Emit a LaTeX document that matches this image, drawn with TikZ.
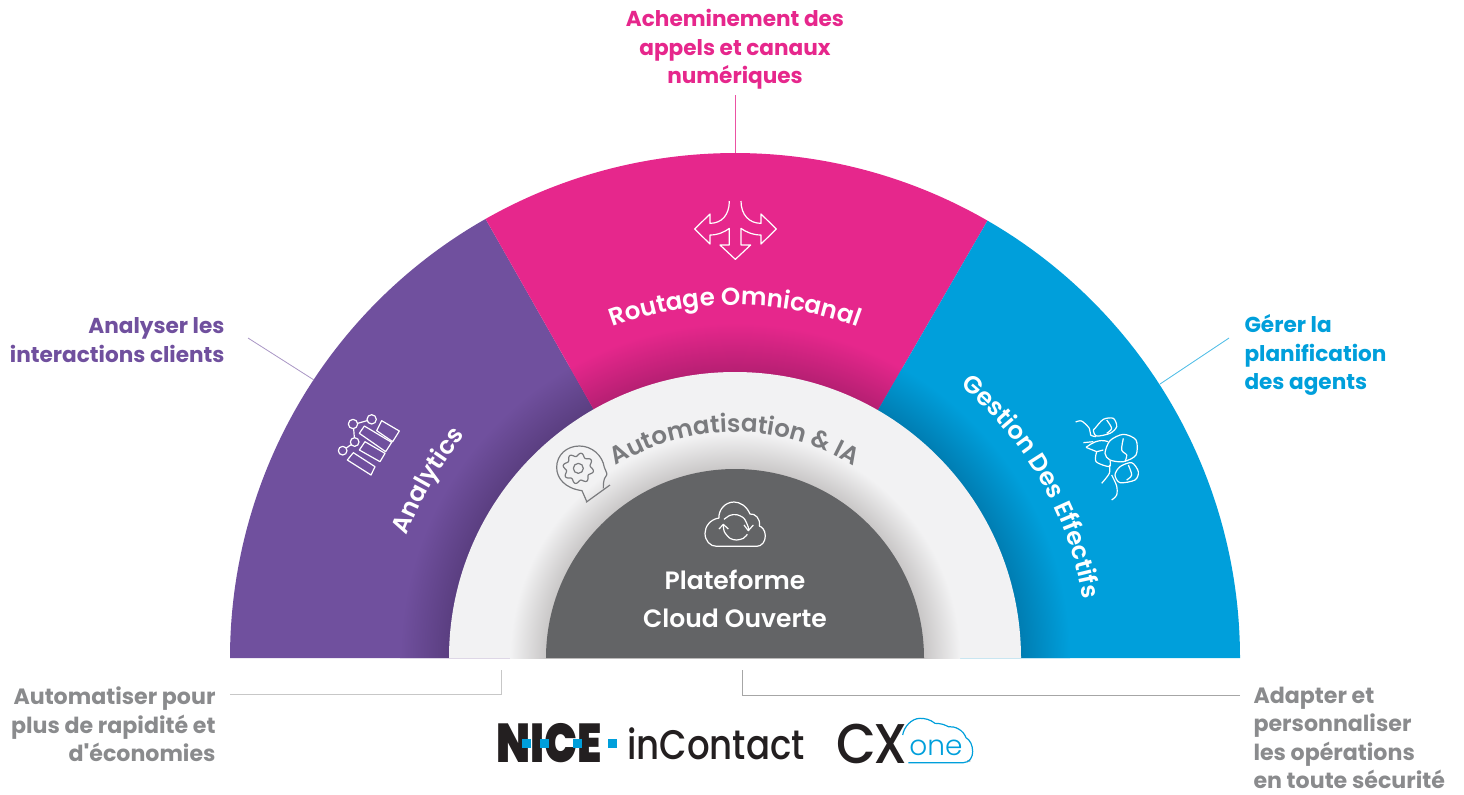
\documentclass[tikz,border=0pt]{standalone}
\usepackage{fontspec}
\setmainfont{Poppins}
\newfontfamily\semifont{Poppins SemiBold}
\newfontfamily\lightfont{Poppins Light}
\newfontfamily\medfont{Poppins Medium}
\newfontfamily\plainbold{Poppins Bold}
\newfontfamily\blackfont{Poppins Black}
\usetikzlibrary{decorations.text}
\tikzset{every picture/.style={line width=0.75pt}}

\definecolor{violetbase}{HTML}{70509E}
\definecolor{violetdark}{HTML}{5A3E80}
\definecolor{pinkbase}{HTML}{E6278C}
\definecolor{pinkdark}{HTML}{B51F72}
\definecolor{bluebase}{HTML}{009FDB}
\definecolor{bluedark}{HTML}{007DB2}
\definecolor{ringbase}{HTML}{F2F2F3}
\definecolor{ringdark}{HTML}{C9C7C7}
\definecolor{coregrey}{HTML}{636466}
\definecolor{labelgrey}{HTML}{8A8B8D}
\definecolor{arcgrey}{HTML}{7A7B7E}
\definecolor{logoblack}{HTML}{231F20}

\pgfdeclareradialshading{violetshade}{\pgfpoint{0bp}{0bp}}{color(0bp)=(violetdark); color(21.3bp)=(violetdark); color(25bp)=(violetbase); color(50bp)=(violetbase)}
\pgfdeclareradialshading{pinkshade}{\pgfpoint{0bp}{0bp}}{color(0bp)=(pinkdark); color(21.3bp)=(pinkdark); color(25bp)=(pinkbase); color(50bp)=(pinkbase)}
\pgfdeclareradialshading{blueshade}{\pgfpoint{0bp}{0bp}}{color(0bp)=(bluedark); color(21.3bp)=(bluedark); color(25bp)=(bluebase); color(50bp)=(bluebase)}
\pgfdeclareradialshading{ringshade}{\pgfpoint{0bp}{0bp}}{color(0bp)=(ringdark); color(21bp)=(ringdark); color(25bp)=(ringbase); color(50bp)=(ringbase)}

\newcommand{\labelfont}{\fontsize{16.2}{21.4}\selectfont\bfseries}
\newcommand{\greyfont}{\fontsize{16.6}{21.3}\selectfont\bfseries}
\newcommand{\arcfont}{\fontsize{18.4}{22}\selectfont\semifont}

\tikzset{
  sidelabel/.style={inner sep=0.75pt,font=\labelfont},
  greylabel/.style={inner sep=0.75pt,font=\greyfont,text=labelgrey},
  iconline/.style={white,line width=0.9pt,line join=round},
  headline/.style={arcgrey,line width=0.9pt,line join=round},
  iconbox/.style={x=0.25pt,y=0.25pt},
  leader/.style={line width=0.6pt}
}

\begin{document}
\begin{tikzpicture}[x=0.75pt,y=0.75pt,yscale=-1,xscale=1]
\useasboundingbox (0,0) rectangle (1464,794);

\begin{scope}[shift={(735,658)},yscale=-1]
%Shape: Sector violet
\fill [violetbase] (0,0) -- (180:505) arc [start angle=180,end angle=119.6,radius=505] -- cycle ;
\begin{scope}
\clip (0,0) -- (180:505) arc [start angle=180,end angle=119.6,radius=505] -- cycle ;
\shade [shading=violetshade] (0,0) circle (335) ;
\end{scope}
%Shape: Sector pink
\fill [pinkbase] (0,0) -- (119.6:505) arc [start angle=119.6,end angle=60,radius=505] -- cycle ;
\begin{scope}
\clip (0,0) -- (119.6:505) arc [start angle=119.6,end angle=60,radius=505] -- cycle ;
\shade [shading=pinkshade] (0,0) circle (335) ;
\end{scope}
%Shape: Sector blue
\fill [bluebase] (0,0) -- (60:505) arc [start angle=60,end angle=0,radius=505] -- cycle ;
\begin{scope}
\clip (0,0) -- (60:505) arc [start angle=60,end angle=0,radius=505] -- cycle ;
\shade [shading=blueshade] (0,0) circle (335) ;
\end{scope}
%Shape: Half ring
\fill [ringbase] (-286,0) arc [start angle=180,end angle=0,radius=286] -- cycle ;
\begin{scope}
\clip (-240,0) rectangle (240,240) ;
\shade [shading=ringshade] (0,0) circle (225) ;
\end{scope}
%Shape: Half disc
\fill [coregrey] (-189,0) arc [start angle=180,end angle=0,radius=189] -- cycle ;

%Curve Text
\path [decorate,decoration={text along path,text align=center,text color=white,text={|\arcfont|Routage Omnicanal}}] (130:353) arc [start angle=130,end angle=50,radius=353] ;
\path [decorate,decoration={text along path,text align=center,text color=white,text={|\arcfont|Analytics}}] (180:350) arc [start angle=180,end angle=120,radius=350] ;
\path [decorate,decoration={text along path,text align=center,text color=white,text={|\arcfont|Gestion Des Effectifs}}] (65:353) arc [start angle=65,end angle=-5,radius=353] ;
\path [decorate,decoration={text along path,text align=center,text color=arcgrey,text={|\arcfont|Automatisation {\&} IA}}] (140:226) arc [start angle=140,end angle=40,radius=226] ;
\end{scope}

%Straight Lines
\coordinate (pinkFoot) at (735,95);
\coordinate (pinkTip) at (735,153);
\coordinate (violetFoot) at (248,338);
\coordinate (violetTip) at (314,380);
\coordinate (blueFoot) at (1229,338);
\coordinate (blueTip) at (1160,384);
\coordinate (leftStart) at (230,694);
\coordinate (leftCorner) at (501,694);
\coordinate (leftEnd) at (501,670);
\coordinate (rightStart) at (1240,695);
\coordinate (rightCorner) at (742,695);
\coordinate (rightEnd) at (742,670);

% Text Node
\draw (735,49.5) node (pinkLabel) [sidelabel,align=center,text=pinkbase] {Acheminement des\\appels et canaux\\numériques};
% Text Node
\draw (226,340) node (violetLabel) [sidelabel,anchor=east,align=right,text=violetbase] {Analyser les\\interactions clients};
% Text Node
\draw (1243,355) node (blueLabel) [sidelabel,anchor=west,align=left,text=bluebase] {Gérer la\\planification\\des agents};
% Text Node
\draw (217,724.5) node (leftLabel) [greylabel,anchor=east,align=right] {Automatiser pour\\plus de rapidité et\\d{\plainbold '}économies};
% Text Node
\draw (1252,738) node (rightLabel) [greylabel,anchor=west,align=left] {Adapter et\\personnaliser\\les opérations\\en toute sécurité};
% Text Node
\draw (735,599) node (coreLabel) [inner sep=0.75pt,align=center,text=white,font=\fontsize{18.8}{28.6}\selectfont\semifont] {Plateforme\\Cloud Ouverte};

\draw [leader,pinkbase!80] (pinkFoot) -- (pinkTip) ;
\draw [leader,violetbase!60] (violetFoot) -- (violetTip) ;
\draw [leader,bluebase!70] (blueFoot) -- (blueTip) ;
\draw [leader,black!22] (leftStart) -- (leftCorner) -- (leftEnd) ;
\draw [leader,black!35] (rightStart) -- (rightCorner) -- (rightEnd) ;

%Shape: Route icon
\begin{scope}[shift={(680,190)},iconbox]
\draw [iconline] (148,33) .. controls (148,75) and (125,100) .. (90,100) -- (90,72) -- (44,117) -- (90,162) -- (90,135) .. controls (115,135) and (135,125) .. (148,115) -- (148,165) -- (120,165) -- (166,208) -- (212,165) -- (183,165) -- (183,115) .. controls (196,125) and (218,135) .. (243,135) -- (243,162) -- (289,117) -- (243,72) -- (243,100) .. controls (208,100) and (183,75) .. (183,33) ;
\end{scope}

%Shape: Analytics icon
\begin{scope}[shift={(320,400)},iconbox]
\draw [iconline] (99,72) circle (14) ;
\draw [iconline] (155,58) circle (14) ;
\draw [iconline] (104,126) circle (13) ;
\draw [iconline] (68,152) circle (13) ;
\draw [iconline] (113,70) -- (141,62) ;
\draw [iconline] (101,86) -- (103,113) ;
\draw [iconline] (93,134) -- (79,144) ;
\draw [iconline] (185,62) -- (238,93) -- (218,125) -- (170,92) -- cycle ;
\draw [iconline] (133,78) -- (215,127) -- (197,155) -- (118,100) -- cycle ;
\draw [iconline] (135,125) -- (195,160) -- (180,185) -- (118,150) -- cycle ;
\draw [iconline] (100,158) -- (165,200) -- (153,225) -- (82,180) -- cycle ;
\end{scope}

%Shape: Agents icon
\begin{scope}[shift={(1060,400)},iconbox]
\draw [iconline] plot [smooth cycle] coordinates {(105,85) (130,58) (160,55) (170,80) (150,100) (110,108) (100,92)} ;
\draw [iconline] plot [smooth] coordinates {(140,60) (155,85) (140,100)} ;
\draw [iconline] plot [smooth] coordinates {(47,66) (65,63) (88,85) (92,105) (108,110)} ;
\draw [iconline] plot [smooth cycle] coordinates {(135,160) (150,122) (190,103) (228,120) (228,165) (190,185) (150,180)} ;
\draw [iconline] plot [smooth] coordinates {(190,115) (185,150) (200,165) (195,185)} ;
\draw [iconline] (78,142) .. controls (95,130) and (115,115) .. (145,125) ;
\draw [iconline] (70,128) -- (100,125) ;
\draw [iconline] (78,142) -- (110,155) -- (130,150) ;
\draw [iconline] plot [smooth] coordinates {(110,155) (108,185) (148,200) (150,182)} ;
\draw [iconline] plot [smooth cycle] coordinates {(165,225) (180,200) (215,188) (235,215) (225,240) (180,248)} ;
\draw [iconline] plot [smooth] coordinates {(205,195) (215,225) (200,240)} ;
\draw [iconline] plot [smooth] coordinates {(148,195) (148,220) (125,250)} ;
\draw [iconline] plot [smooth] coordinates {(155,225) (170,258) (170,285) (155,300)} ;
\end{scope}

%Shape: Head and gear icon
\begin{scope}[shift={(540,430)},iconbox]
\draw [headline] (140,214) -- (126,182) .. controls (75,175) and (50,145) .. (50,112) .. controls (50,75) and (80,48) .. (118,48) .. controls (155,48) and (187,75) .. (193,112) .. controls (195,120) and (203,130) .. (200,135) .. controls (195,142) and (190,145) .. (190,175) ;
\draw [headline] (138,217) -- (210,165) ;
\draw [headline] (115,115) circle (15) ;
\draw [headline] plot [domain=0:360,samples=145,smooth] ({115+(41+5*sin(8*\x))*cos(\x)},{115+(41+5*sin(8*\x))*sin(\x)}) ;
\end{scope}

%Shape: Cloud icon
\begin{scope}[shift={(540,430)},iconbox]
\draw [iconline] (530,349) -- (650,349) .. controls (665,349) and (676,335) .. (676,318) .. controls (676,300) and (665,290) .. (658,288) .. controls (662,265) and (645,250) .. (630,252) .. controls (620,228) and (600,216) .. (582,216) .. controls (555,216) and (535,240) .. (537,264) .. controls (510,268) and (495,290) .. (495,310) .. controls (495,332) and (510,349) .. (530,349) -- cycle ;
\draw [iconline] plot [smooth] coordinates {(552,268) (570,256) (590,254) (612,265) (625,292) (625,302)} ;
\draw [iconline] (612,285) -- (625,302) -- (640,285) ;
\draw [iconline] plot [smooth] coordinates {(550,283) (553,305) (570,325) (590,330) (610,325) (622,313)} ;
\draw [iconline] (537,297) -- (550,283) -- (565,297) ;
\end{scope}

% Text Node
\draw (549.5,743.5) node (niceLogo) [inner sep=0pt,text=logoblack,font=\fontsize{41}{41}\selectfont\blackfont] {\scalebox{0.8}[1]{NICE}};
\fill [bluebase] (522,739) rectangle (531,748) ;
\fill [bluebase] (540,739) rectangle (549,748) ;
\fill [bluebase] (573,739) rectangle (582,748) ;
\fill [bluebase] (608,739) rectangle (617,748) ;
% Text Node
\draw (716,744) node (contactLogo) [inner sep=0pt,text=logoblack,font=\fontsize{31}{31}\selectfont\medfont] {\scalebox{0.86}[1]{inContact}};
% Text Node
\draw (872,743.5) node (cxLogo) [inner sep=0pt,text=logoblack,font=\fontsize{42}{42}\selectfont\medfont] {\scalebox{0.92}[1]{C\kern-2pt X}};
% Text Node
\draw (936,748) node (oneLogo) [inner sep=0pt,text=bluebase,font=\fontsize{21}{24}\selectfont\lightfont] {one};
% Text Node
\draw (969,762) node (tmLogo) [inner sep=0pt,text=logoblack,font=\fontsize{3}{3}\selectfont] {™};
%Shape: Logo cloud
\begin{scope}[shift={(480,700)},iconbox]
\draw [bluebase,line width=0.9pt] (1285,188) -- (1450,188) .. controls (1470,188) and (1478,170) .. (1478,155) .. controls (1478,135) and (1470,120) .. (1458,113) .. controls (1450,90) and (1425,78) .. (1405,80) .. controls (1395,75) and (1385,70) .. (1365,70) .. controls (1350,58) and (1335,55) .. (1320,55) .. controls (1295,55) and (1272,80) .. (1268,105) ;
\end{scope}
\end{tikzpicture}
\end{document}
